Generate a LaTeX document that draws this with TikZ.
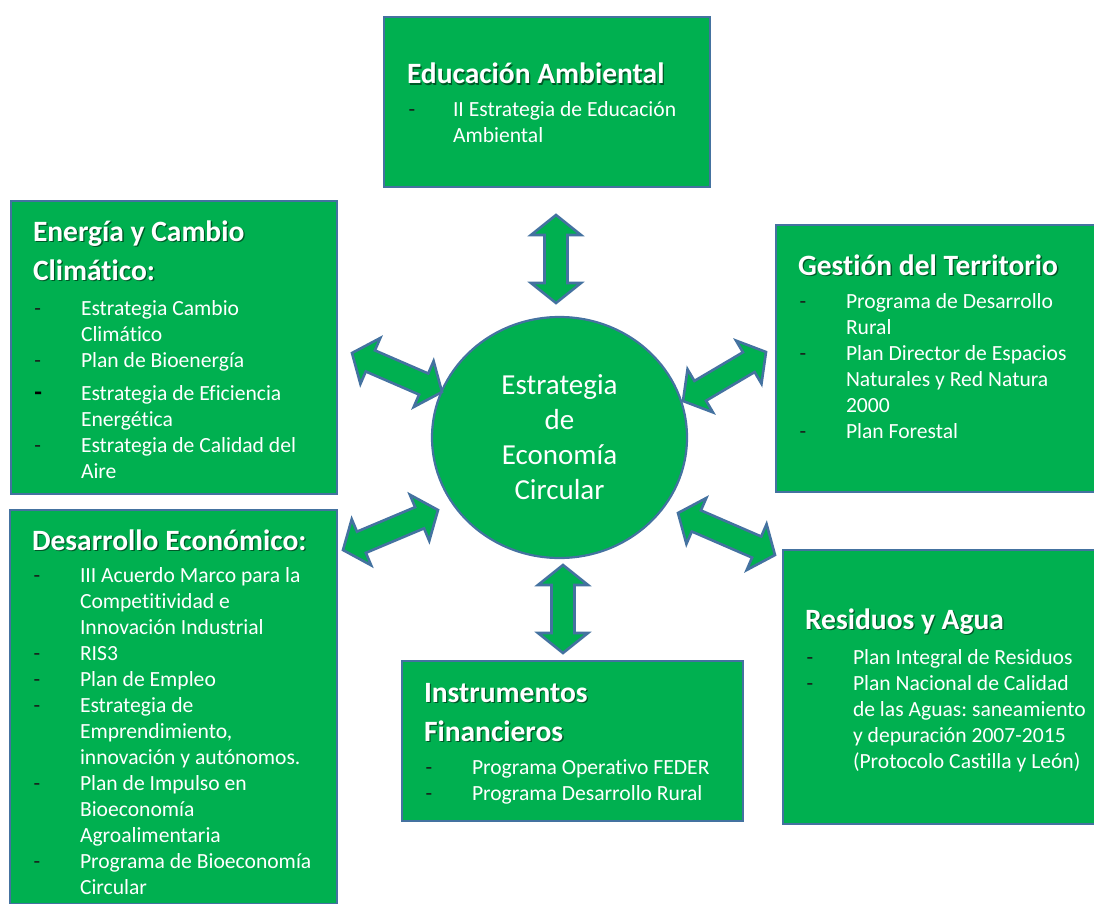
\documentclass[tikz,border=0pt]{standalone}
\usepackage{fontspec}
\setmainfont{Carlito}[Ligatures=NoCommon]
\usetikzlibrary{shapes.geometric,calc}
\definecolor{gfill}{RGB}{0,176,80}
\definecolor{bline}{RGB}{68,114,160}
\definecolor{dashc}{RGB}{25,25,25}
\frenchspacing
\tikzset{
  box/.style={draw=bline, line width=2pt, fill=gfill, rectangle, inner sep=0pt, outer sep=0pt, anchor=north west},
  ttl/.style={anchor=base west, inner sep=0pt, outer sep=0pt, text=white, font=\fontsize{29.5}{39.5}\selectfont\bfseries\frenchspacing},
  items/.style={anchor=base west, inner sep=0pt, outer sep=0pt, text=white, font=\fontsize{21.6}{26}\selectfont\frenchspacing},
  hub/.style={ellipse, draw=bline, line width=2.2pt, fill=gfill, inner sep=0pt, text=white, font=\fontsize{29}{35}\selectfont, align=center},
  darr/.style={draw=bline, line width=2.6pt, fill=gfill, line join=miter},
}
\newcommand\dsh{\hspace*{1.5pt}\textcolor{dashc}{-}}
\newcommand\bdsh{\hspace*{1.5pt}\textcolor{black}{\fontsize{25}{26}\selectfont\bfseries -}}
\newcommand\shd[1]{\makebox[0pt][l]{\hspace{1.3pt}\raisebox{-1.3pt}{\textcolor{gfill!50!black}{#1}}}#1}
\newcommand\dblarrow[2]{%
  \draw[darr] (#1)
    -- ($(#1)!20pt!(#2)!25pt!90:(#2)$)
    -- ($(#1)!20pt!(#2)!11.5pt!90:(#2)$)
    -- ($(#2)!20pt!(#1)!11.5pt!-90:(#1)$)
    -- ($(#2)!20pt!(#1)!25pt!-90:(#1)$)
    -- (#2)
    -- ($(#2)!20pt!(#1)!25pt!90:(#1)$)
    -- ($(#2)!20pt!(#1)!11.5pt!90:(#1)$)
    -- ($(#1)!20pt!(#2)!11.5pt!-90:(#2)$)
    -- ($(#1)!20pt!(#2)!25pt!-90:(#2)$)
    -- cycle;}
\begin{document}
\begin{tikzpicture}[x=1pt,y=-1pt]
\useasboundingbox (0,0) rectangle (1094,904);

% boxes
\node[box, minimum width=326pt, minimum height=170pt] (ea) at (384,17) {};
\node[box, minimum width=326pt, minimum height=293pt] (ec) at (11,201) {};
\node[box, minimum width=327pt, minimum height=394pt] (de) at (10,510) {};
\node[box, minimum width=320pt, minimum height=267pt] (gt) at (776,225) {};
\node[box, minimum width=313pt, minimum height=274pt] (ra) at (783,550) {};
\node[box, minimum width=341pt, minimum height=160pt] (inf) at (402,661) {};

% hub
\node[hub, minimum width=255pt, minimum height=241pt] (hub) at (559.5,437.5)
  {Estrategia\\de\\Economía\\Circular};

% arrows
\coordinate (t1) at (556,215); \coordinate (t2) at (556,303);
\coordinate (b1) at (563,565); \coordinate (b2) at (563,653);
\coordinate (ul1) at (352,353); \coordinate (ul2) at (442,392);
\coordinate (ur1) at (683,401); \coordinate (ur2) at (766,352);
\coordinate (ll1) at (343,550); \coordinate (ll2) at (438,510);
\coordinate (lr1) at (678,513); \coordinate (lr2) at (775,555);
\dblarrow{t1}{t2}
\dblarrow{b1}{b2}
\dblarrow{ul1}{ul2}
\dblarrow{ur1}{ur2}
\dblarrow{ll1}{ll2}
\dblarrow{lr1}{lr2}

% Educación Ambiental
\node[ttl] (ea-t) at (407,84) {\begin{tabular}[t]{@{}l@{}}\shd{Educación Ambiental}\end{tabular}};
\node[items] (ea-i) at (407,117) {\begin{tabular}[t]{@{}p{46pt}@{}l@{}}
\dsh & II Estrategia de Educación\\
 & Ambiental
\end{tabular}};

% Energía y Cambio Climático
\node[ttl] (ec-t) at (33,241) {\begin{tabular}[t]{@{}l@{}}\shd{Energía y Cambio}\\\shd{Climático:}\end{tabular}};
\node[items] (ec-i) at (33,315) {\begin{tabular}[t]{@{}p{48pt}@{}l@{}}
\dsh & Estrategia Cambio\\
 & Climático\\
\dsh & Plan de Bioenergía\\[7pt]
\bdsh & Estrategia de Eficiencia\\
 & Energética\\
\dsh & Estrategia de Calidad del\\
 & Aire
\end{tabular}};

% Desarrollo Económico
\node[ttl] (de-t) at (32,550) {\begin{tabular}[t]{@{}l@{}}\shd{Desarrollo Económico:}\end{tabular}};
\node[items] (de-i) at (32,582) {\begin{tabular}[t]{@{}p{48pt}@{}l@{}}
\dsh & III Acuerdo Marco para la\\
 & Competitividad e\\
 & Innovación Industrial\\
\dsh & RIS3\\
\dsh & Plan de Empleo\\
\dsh & Estrategia de\\
 & Emprendimiento,\\
 & innovación y autónomos.\\
\dsh & Plan de Impulso en\\
 & Bioeconomía\\
 & Agroalimentaria\\
\dsh & Programa de Bioeconomía\\
 & Circular
\end{tabular}};

% Gestión del Territorio
\node[ttl] (gt-t) at (798,275) {\begin{tabular}[t]{@{}l@{}}\shd{Gestión del Territorio}\end{tabular}};
\node[items] (gt-i) at (798,308) {\begin{tabular}[t]{@{}p{48pt}@{}l@{}}
\dsh & Programa de Desarrollo\\
 & Rural\\
\dsh & Plan Director de Espacios\\
 & Naturales y Red Natura\\
 & 2000\\
\dsh & Plan Forestal
\end{tabular}};

% Residuos y Agua
\node[ttl] (ra-t) at (805,629) {\begin{tabular}[t]{@{}l@{}}\shd{Residuos y Agua}\end{tabular}};
\node[items] (ra-i) at (805,664) {\begin{tabular}[t]{@{}p{48pt}@{}l@{}}
\dsh & Plan Integral de Residuos\\
\dsh & Plan Nacional de Calidad\\
 & de las Aguas: saneamiento\\
 & y depuración 2007-2015\\
 & (Protocolo Castilla y León)
\end{tabular}};

% Instrumentos Financieros
\node[ttl] (inf-t) at (424,702) {\begin{tabular}[t]{@{}l@{}}\shd{Instrumentos}\\\shd{Financieros}\end{tabular}};
\node[items] (inf-i) at (424,774) {\begin{tabular}[t]{@{}p{48pt}@{}l@{}}
\dsh & Programa Operativo FEDER\\
\dsh & Programa Desarrollo Rural
\end{tabular}};
\end{tikzpicture}
\end{document}
